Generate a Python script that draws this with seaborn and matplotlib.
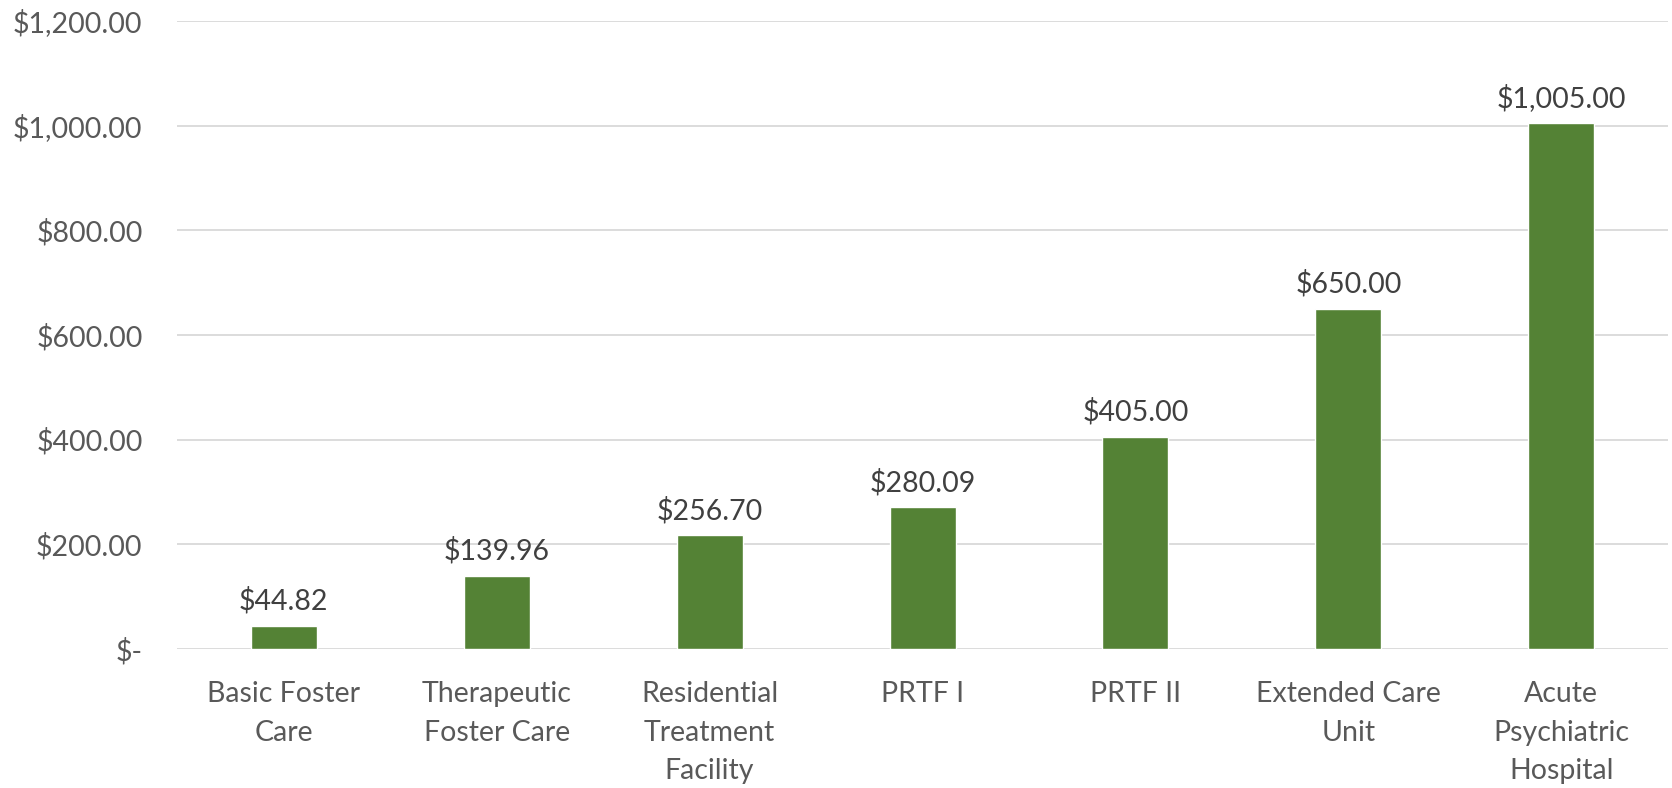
import matplotlib.pyplot as plt
import seaborn as sns
import pandas as pd

# categories, bar heights as drawn, and the value labels printed above them
categories = ['Basic Foster\nCare', 'Therapeutic\nFoster Care', 'Residential\nTreatment\nFacility',
              'PRTF I', 'PRTF II', 'Extended Care\nUnit', 'Acute\nPsychiatric\nHospital']
bar_heights = [44.82, 139.96, 217.0, 271.0, 405.0, 650.0, 1005.0]
bar_labels = ['$44.82', '$139.96', '$256.70', '$280.09', '$405.00', '$650.00', '$1,005.00']
y_ticks = [0, 200, 400, 600, 800, 1000, 1200]

df = pd.DataFrame({'category': categories, 'rate': bar_heights})

sns.set_style('white')
plt.rcParams['font.family'] = ['Lato', 'DejaVu Sans']

fig = plt.figure(figsize=(16.72, 7.88), dpi=100)
ax = fig.add_axes([0.106, 0.1764, 0.8915, 0.797])

sns.barplot(data=df, x='category', y='rate', color='#548235', width=0.31,
            saturation=1, ax=ax)

# value labels above each bar
for i, (h, lab) in enumerate(zip(bar_heights, bar_labels)):
    ax.annotate(lab, (i, h), xytext=(0, 8), textcoords='offset points',
                ha='center', va='bottom', fontsize=20.5, color='#404040')

ax.set_ylim(0, 1200)
ax.set_xlim(-0.5, len(categories) - 0.5)
ax.set_yticks(y_ticks)
ax.set_yticklabels(['$-' if v == 0 else '${:,.2f}'.format(v) for v in y_ticks])
ax.yaxis.grid(True, color='#D9D9D9', linewidth=1.3)
ax.set_axisbelow(True)
for s in ['top', 'right', 'left', 'bottom']:
    ax.spines[s].set_visible(False)
ax.tick_params(axis='y', length=0, pad=25, labelsize=20.5, labelcolor='#595959')
ax.tick_params(axis='x', length=0, pad=23, labelsize=20.5, labelcolor='#595959')
for t in ax.get_xticklabels():
    t.set_linespacing(1.6)
    t.set_va('top')
ax.set_xlabel('')
ax.set_ylabel('')

plt.savefig('out.png', dpi=100)
plt.close()
